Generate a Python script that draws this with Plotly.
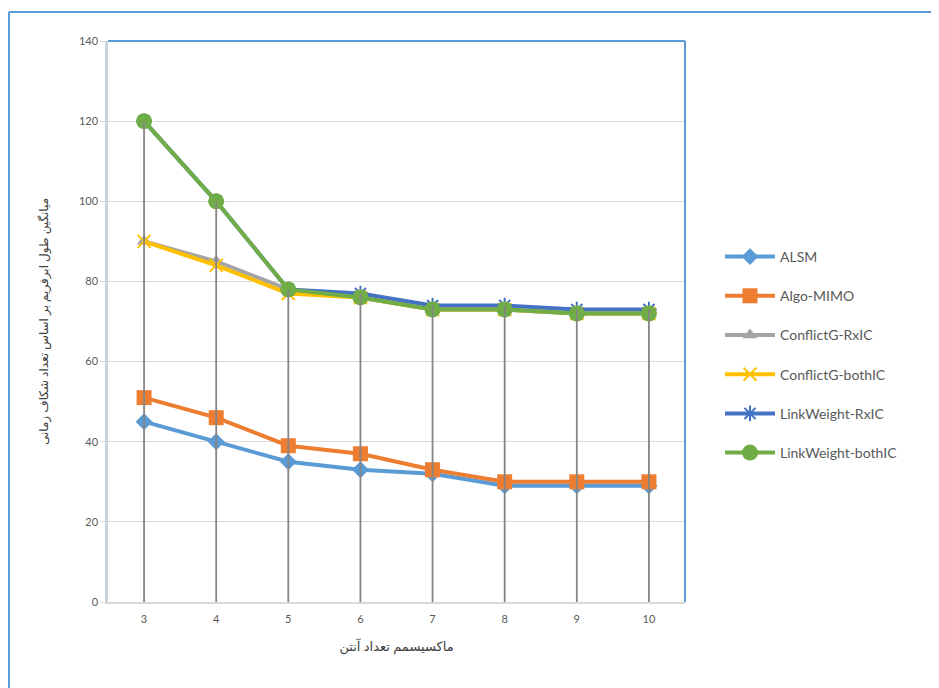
import plotly.graph_objects as go

categories = ["3", "4", "5", "6", "7", "8", "9", "10"]
alsm = [45, 40, 35, 33, 32, 29, 29, 29]
algo_mimo = [51, 46, 39, 37, 33, 30, 30, 30]
conflict_rx = [90, 85, 78, 76, 73, 73, 72, 72]
conflict_both = [90, 84, 77, 76, 73, 73, 72, 72]
link_rx = [120, 100, 78, 77, 74, 74, 73, 73]
link_both = [120, 100, 78, 76, 73, 73, 72, 72]
y_ticks = [0, 20, 40, 60, 80, 100, 120, 140]

series = [
    ("ALSM", alsm, "#5B9BD5", dict(symbol="diamond", size=13)),
    ("Algo-MIMO", algo_mimo, "#ED7D31", dict(symbol="square", size=15)),
    ("ConflictG-RxIC", conflict_rx, "#A5A5A5", dict(symbol="triangle-up", size=13)),
    ("ConflictG-bothIC", conflict_both, "#FFC000", dict(symbol="x-thin", size=13, line=dict(width=2, color="#FFC000"))),
    ("LinkWeight-RxIC", link_rx, "#4472C4", dict(symbol="asterisk", size=13, line=dict(width=2, color="#4472C4"))),
    ("LinkWeight-bothIC", link_both, "#70AD47", dict(symbol="circle", size=16)),
]

FONT = "Lato, 'DejaVu Sans', sans-serif"
fig = go.Figure()
for i, (name, vals, color, marker) in enumerate(series):
    m = dict(color=color)
    m.update(marker)
    fig.add_trace(go.Scatter(
        x=categories, y=vals, name=name, mode="lines+markers",
        line=dict(color=color, width=4), marker=m,
        legendgroup=f"g{i}",
    ))

# drop lines from the highest point of each category to the axis
all_vals = [alsm, algo_mimo, conflict_rx, conflict_both, link_rx, link_both]
dx, dy = [], []
for j, c in enumerate(categories):
    top = max(v[j] for v in all_vals)
    dx += [c, c, None]
    dy += [top, 0, None]
fig.add_trace(go.Scatter(x=dx, y=dy, mode="lines", line=dict(color="#858585", width=1.8),
                         showlegend=False, hoverinfo="skip"))

# page has an 8px body margin; figure is sized to fit the 939x688 window
W, H = 931, 680
L, T = 100, 33
R = W - 677
B = H - 594
pw, ph = W - L - R, H - T - B

shapes = [
    # plot area top and right border
    dict(type="line", xref="paper", yref="paper", x0=0, x1=1, y0=1, y1=1,
         line=dict(color="#5B9BD5", width=2)),
    dict(type="line", xref="paper", yref="paper", x0=1, x1=1, y0=0, y1=1,
         line=dict(color="#5B9BD5", width=2)),
    # outer chart border
    dict(type="line", xref="paper", yref="paper",
         x0=(1 - L) / pw, x1=(W + 10 - L) / pw, y0=1 + (T - 4) / ph, y1=1 + (T - 4) / ph,
         line=dict(color="#5B9BD5", width=2)),
    dict(type="line", xref="paper", yref="paper",
         x0=(1 - L) / pw, x1=(1 - L) / pw, y0=1 + (T - 4) / ph, y1=-(B + 10) / ph,
         line=dict(color="#5B9BD5", width=2)),
]

fig.update_layout(
    width=W, height=H,
    margin=dict(l=L, r=R, t=T, b=B),
    paper_bgcolor="white", plot_bgcolor="white",
    font=dict(family=FONT, color="#595959", size=11),
    shapes=shapes,
    showlegend=True,
    legend=dict(x=(712 - L) / pw, y=1 - (233 - T) / ph, xanchor="left", yanchor="top",
                font=dict(size=14, color="#595959"), tracegroupgap=18,
                traceorder="grouped", itemwidth=50, bgcolor="rgba(0,0,0,0)"),
    xaxis=dict(type="category", range=[-0.5, 7.5], showgrid=False,
               showline=True, linecolor="#D9D9D9", linewidth=1.5,
               ticks="outside", ticklen=6, tickcolor="rgba(0,0,0,0)",
               tickfont=dict(size=11, color="#595959"),
               title=dict(text="ماکسیسمم تعداد آنتن", font=dict(size=13, color="#404040"), standoff=18)),
    yaxis=dict(range=[0, 140], tickvals=y_ticks, showgrid=True, gridcolor="#D9D9D9", gridwidth=1,
               showline=True, linecolor="#C8D4E2", linewidth=2.5, zeroline=False,
               ticks="outside", ticklen=5, tickcolor="#D9D9D9",
               tickfont=dict(size=11, color="#595959"),
               title=dict(text="میانگین طول ابرفریم بر اساس تعداد شکاف زمانی",
                          font=dict(size=12, color="#404040"), standoff=28)),
)

fig.write_html("out.html")
